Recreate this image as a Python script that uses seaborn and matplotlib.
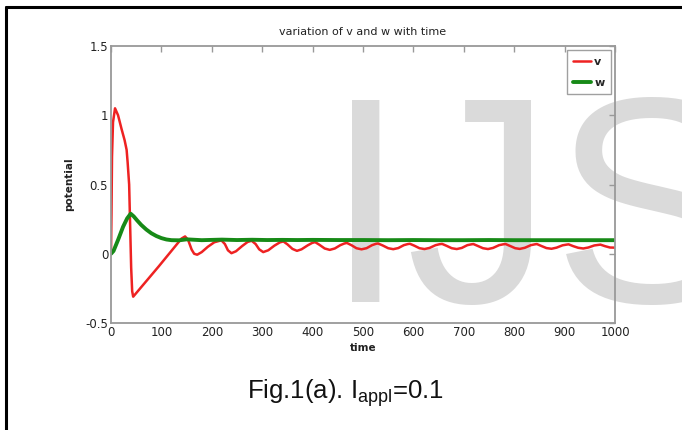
import numpy as np
import pandas as pd
import matplotlib
matplotlib.use("Agg")
import matplotlib.pyplot as plt
import seaborn as sns

# values
t_v = [0, 1, 2, 4, 8, 14, 21, 27, 31, 33, 36, 38, 40, 42, 44, 95, 140, 147, 153, 160, 165, 171,
       180, 192, 205, 219, 226, 232, 239, 248, 260, 271, 279, 287, 294, 302, 312, 324, 335, 342,
       350, 360, 369, 378, 390, 399, 405, 413, 424, 434, 444, 455, 463, 468, 477, 487, 497,
       507, 518, 526, 530, 539, 550, 560, 570, 581, 589, 593, 602, 612, 622, 632, 644, 652, 657,
       666, 676, 686, 696, 707, 715, 719, 728, 738, 748, 758, 770, 778, 783, 792, 802, 811,
       821, 833, 841, 845, 854, 864, 874, 884, 896, 904, 908, 917, 927, 937, 947, 959, 967,
       971, 980, 990, 1000]
v = [0, 0.3, 0.7, 0.95, 1.05, 1.0, 0.9, 0.82, 0.75, 0.66, 0.5, 0.2, -0.1, -0.27, -0.31, -0.09,
     0.11, 0.125, 0.10, 0.03, 0.0, -0.007,
     0.012, 0.05, 0.083, 0.097, 0.07, 0.025, 0.004, 0.018, 0.055, 0.085, 0.094, 0.07, 0.032,
     0.012, 0.025, 0.058, 0.082, 0.089, 0.068, 0.035, 0.021, 0.032, 0.06, 0.078, 0.084, 0.066,
     0.038, 0.028, 0.038, 0.062, 0.074, 0.078, 0.062, 0.04, 0.032, 0.04, 0.062, 0.072, 0.074,
     0.06, 0.04, 0.033, 0.041, 0.062, 0.07, 0.072, 0.058, 0.04, 0.034, 0.042, 0.062, 0.069,
     0.071, 0.057, 0.04, 0.034, 0.042, 0.062, 0.068, 0.07, 0.056, 0.04, 0.034, 0.042, 0.062,
     0.068, 0.07, 0.056, 0.04, 0.035, 0.043, 0.062, 0.068, 0.07, 0.056, 0.041, 0.036, 0.044,
     0.061, 0.066, 0.068, 0.055, 0.043, 0.038, 0.045, 0.06, 0.064, 0.066, 0.055, 0.045, 0.044]

t_w = [0, 5, 14, 24, 32, 39, 45, 52, 60, 70, 80, 90, 100, 110, 120, 135, 150, 165, 180, 200,
       220, 250, 280, 310, 340, 370, 400, 450, 500, 550, 600, 650, 700, 750, 800, 850, 900,
       950, 1000]
w = [0, 0.02, 0.10, 0.195, 0.255, 0.289, 0.27, 0.24, 0.208, 0.175, 0.148, 0.128, 0.113, 0.103,
     0.098, 0.097, 0.104, 0.101, 0.098, 0.100, 0.102, 0.099, 0.101, 0.099, 0.100, 0.099, 0.100,
     0.099, 0.099, 0.098, 0.099, 0.098, 0.098, 0.099, 0.098, 0.098, 0.098, 0.098, 0.098]

x_ticks = [0, 100, 200, 300, 400, 500, 600, 700, 800, 900, 1000]
y_ticks = [-0.5, 0, 0.5, 1, 1.5]
y_ticklabels = ["-0.5", "0", "0.5", "1", "1.5"]

sns.set_style("white")
plt.rcParams['font.family'] = ['DejaVu Sans']
plt.rcParams['mathtext.fontset'] = 'custom'
plt.rcParams['mathtext.rm'] = 'Liberation Sans'

fig = plt.figure(figsize=(6.82, 4.30), dpi=100)

# watermark behind the plot
fig.text(325 / 682, 1 - 302 / 430, "IJS", family="Liberation Sans", fontsize=211,
         color="#dadada", ha="left", va="baseline", zorder=-5)

ax = fig.add_axes([111 / 682, 1 - 323 / 430, 504 / 682, 277 / 430])
ax.set_zorder(2)
ax.patch.set_alpha(0)

sns.lineplot(x=t_v, y=v, color="#ee2222", lw=1.8, label="v", ax=ax)
sns.lineplot(x=t_w, y=w, color="#178a17", lw=2.8, label="w", ax=ax)

ax.set_xlim(0, 1000)
ax.set_ylim(-0.5, 1.5)
ax.set_xticks(x_ticks)
ax.set_yticks(y_ticks)
ax.set_yticklabels(y_ticklabels)
ax.tick_params(direction="in", length=4, width=1, color="#999999", labelsize=8.5,
               labelcolor="#222222", top=True, right=True, pad=2)
for s in ax.spines.values():
    s.set_color("#999999")
    s.set_linewidth(1.3)

ax.set_title("variation of v and w with time", fontsize=8, color="#222222", pad=8)
ax.set_xlabel("time", fontsize=7.5, fontweight="bold", color="#222222", labelpad=3)
ax.set_ylabel("potential", fontsize=7.5, fontweight="bold", color="#222222", labelpad=8)

leg = ax.legend(loc="upper right", handlelength=1.6, handletextpad=0.3,
                labelspacing=1.0, borderaxespad=0.4, borderpad=0.55, frameon=True,
                fancybox=False, prop={"weight": "bold", "size": 8})
leg.get_frame().set_edgecolor("#888888")
leg.get_frame().set_linewidth(1.0)

# caption
fig.text(345 / 682, 1 - 393 / 430, r"Fig.1(a). I$_{\mathrm{appl}}$=0.1",
         family="Liberation Sans", fontsize=18.5, ha="center", va="center", color="#111111")

# page border (left and top)
fig.add_artist(plt.Line2D([6 / 682, 6 / 682], [0, 1 - 7 / 430], color="black", lw=2.2,
                          transform=fig.transFigure))
fig.add_artist(plt.Line2D([6 / 682, 1], [1 - 7 / 430, 1 - 7 / 430], color="black", lw=2.2,
                          transform=fig.transFigure))

fig.savefig("out.png", dpi=100)
